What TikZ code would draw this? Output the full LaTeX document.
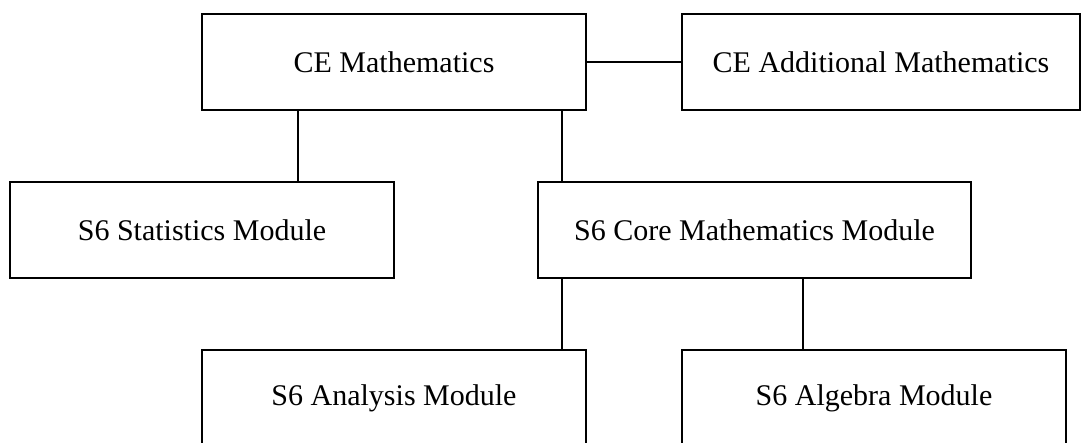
\documentclass[tikz,border=0pt]{standalone}
\usepackage{fontspec}
\setmainfont{Liberation Serif}
\begin{document}
\begin{tikzpicture}[x=1pt,y=-1pt,
  box/.style={draw,line width=1.5pt,inner sep=0pt,minimum width=#1,minimum height=96pt,font=\fontsize{30}{36}\selectfont},
  link/.style={line width=1.5pt}]
\useasboundingbox (0,0) rectangle (1082,443);
\clip (0,0) rectangle (1082,443);
\node[box=384pt] (cem) at (394,62) {CE Mathematics};
\node[box=398pt] (ceam) at (881,62) {CE Additional Mathematics};
\node[box=384pt] (stats) at (202,230) {S6 Statistics Module};
\node[box=433pt] (core) at (754.5,230) {S6 Core Mathematics Module};
\node[box=384pt] (ana) at (394,398) {S6 Analysis Module};
\node[box=384pt] (alg) at (874,398) {S6 Algebra Module};
\coordinate (xa) at (298,0);
\coordinate (xb) at (562,0);
\coordinate (xc) at (803,0);
\draw[link] (cem.east) -- (ceam.west);
\draw[link] (xa |- cem.south) -- (xa |- stats.north);
\draw[link] (xb |- cem.south) -- (xb |- core.north);
\draw[link] (xb |- core.south) -- (xb |- ana.north);
\draw[link] (xc |- core.south) -- (xc |- alg.north);
\end{tikzpicture}
\end{document}
